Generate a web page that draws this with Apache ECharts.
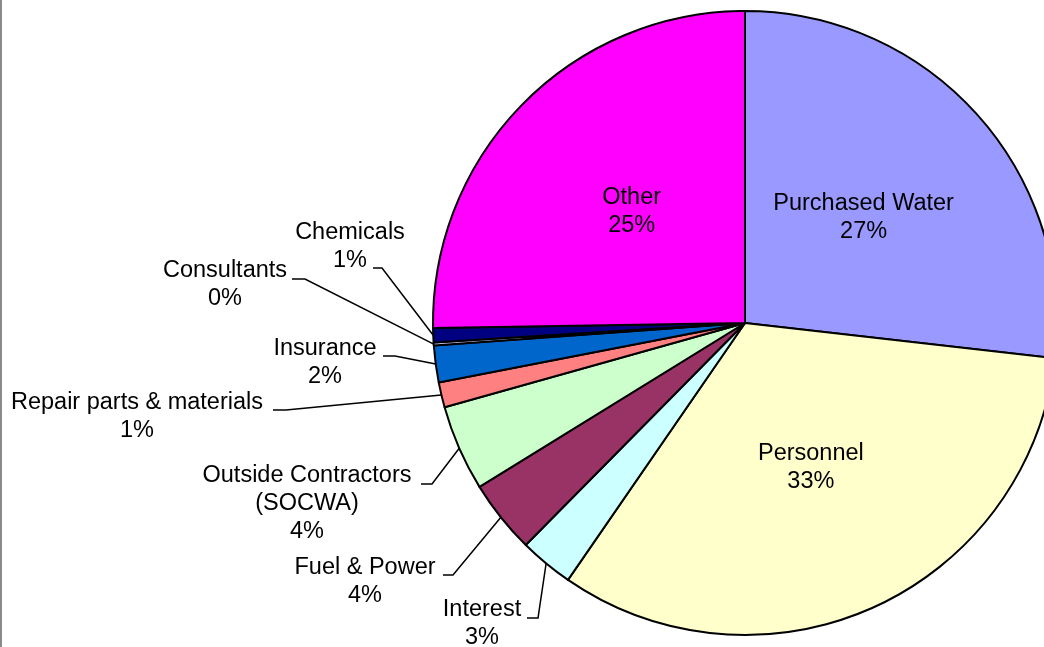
<!DOCTYPE html>
<html lang="en">
<head>
    <meta charset="UTF-8">
    <title>Operating Expenses</title>
    <style>
        html, body { margin: 0; padding: 0; background: #fff; }
    </style>
</head>
<body>
<div id="main" style="width:1044px;height:647px;"></div>

<script src="https://cdn.jsdelivr.net/npm/echarts@6/dist/echarts.min.js"></script>
<script>
    // data (percent of total)
    var categories = ['Purchased Water', 'Personnel', 'Interest', 'Fuel & Power',
        'Outside Contractors (SOCWA)', 'Repair parts & materials', 'Insurance',
        'Consultants', 'Chemicals', 'Other'];
    var shares = [26.8, 32.8, 2.8, 3.8, 4.45, 1.3, 1.9, 0.15, 0.75, 25.25];
    var colors = ['#9999FF', '#FFFFCC', '#CCFFFF', '#993366', '#CCFFCC',
        '#FF8080', '#0066CC', '#CCCCFF', '#000080', '#FF00FF'];
    var insideLabels = ['Purchased Water', 'Personnel', 'Other'];

    // label placement for the small slices: [textX, textY, lineStartX, elbowX, lineY]
    var labelSpots = {
        'Chemicals': [350, 247, 373, 382, 268],
        'Consultants': [225, 285, 292, 305, 279],
        'Insurance': [325, 363, 383, 395, 356],
        'Repair parts & materials': [137, 417, 273, 286, 410],
        'Outside Contractors (SOCWA)': [307, 504, 421, 432, 484],
        'Fuel & Power': [365, 582, 443, 453, 575],
        'Interest': [482, 624, 527, 538, 618]
    };

    var myChart = echarts.init(document.getElementById('main'));

    var pieData = categories.map(function (name, i) {
        var inside = insideLabels.indexOf(name) >= 0;
        return {
            name: name,
            value: shares[i],
            itemStyle: {color: colors[i]},
            label: {position: inside ? 'inside' : 'outside'},
            labelLine: {show: !inside}
        };
    });

    myChart.setOption({
        animation: false,
        graphic: [{
            type: 'rect',
            shape: {x: 0, y: 0, width: 2, height: 647},
            style: {fill: '#8a8a8a'}
        }],
        series: [{
            type: 'pie',
            center: [745, 323],
            radius: 312,
            startAngle: 90,
            clockwise: true,
            avoidLabelOverlap: false,
            itemStyle: {borderColor: '#000', borderWidth: 2},
            label: {
                color: '#000',
                fontFamily: '"Liberation Sans", Arial, sans-serif',
                fontSize: 23.5,
                lineHeight: 28,
                align: 'center',
                formatter: function (p) {
                    return p.name.replace(' (', '\n(') + '\n' + Math.round(p.percent) + '%';
                }
            },
            labelLine: {
                lineStyle: {color: '#000', width: 1.5}
            },
            labelLayout: function (params) {
                var spot = labelSpots[categories[params.dataIndex]];
                if (!spot) {
                    return {};
                }
                var edge = params.labelLinePoints ? params.labelLinePoints[0] : [spot[3], spot[4]];
                return {
                    x: spot[0],
                    y: spot[1],
                    align: 'center',
                    verticalAlign: 'middle',
                    labelLinePoints: [edge, [spot[3], spot[4]], [spot[2], spot[4]]]
                };
            },
            data: pieData
        }]
    });
</script>
</body>
</html>
